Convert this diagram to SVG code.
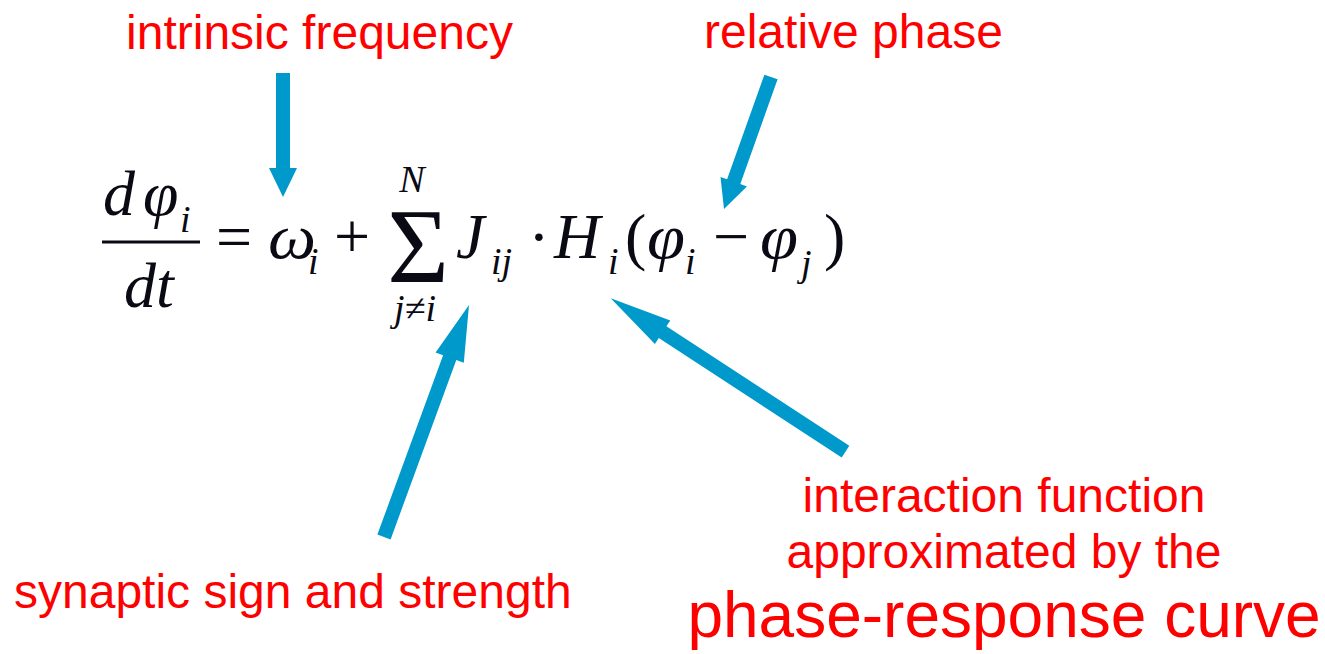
<svg xmlns="http://www.w3.org/2000/svg" width="1325" height="654" viewBox="0 0 1325 654">
<style>
.lbl{font-family:"Liberation Sans",Arial,sans-serif;font-size:48px;fill:#ff0000}
.big{font-size:64px}
.m{font-family:"Liberation Serif","Times New Roman",serif;fill:#0a0a14}
.it{font-style:italic}
.main{font-size:64px}
.sub{font-size:38px}
.arrow{fill:#0099cc}
</style>
<rect width="1325" height="654" fill="#ffffff"/>
<g id="label-intrinsic"><text class="lbl" x="319.5" y="49" text-anchor="middle">intrinsic frequency</text></g>
<g id="label-relative"><text class="lbl" x="704" y="48">relative phase</text></g>
<g id="label-synaptic"><text class="lbl" x="14" y="608">synaptic sign and strength</text></g>
<g id="label-interaction">
<text class="lbl" x="1004" y="512" text-anchor="middle">interaction function</text>
<text class="lbl" x="1004" y="568" text-anchor="middle">approximated by the</text>
<text class="lbl big" x="1004" y="637" text-anchor="middle">phase-response curve</text>
</g>
<g id="equation">
<text class="m it main" x="103" y="215">d</text>
<text class="m it main" x="143" y="215">φ</text>
<text class="m it sub" x="180" y="232">i</text>
<line x1="102" y1="242" x2="200" y2="242" stroke="#0a0a14" stroke-width="3"/>
<text class="m it main" x="124" y="307">dt</text>
<text class="m main" x="234" y="258" text-anchor="middle">=</text>
<text class="m it main" x="268" y="258" textLength="48" lengthAdjust="spacingAndGlyphs">ω</text>
<text class="m it sub" x="308" y="274">i</text>
<text class="m main" x="352" y="258" text-anchor="middle">+</text>
<text class="m" x="418" y="282" font-size="106" text-anchor="middle">Σ</text>
<text class="m it sub" x="412" y="192" text-anchor="middle">N</text>
<text class="m it sub" x="415" y="321" text-anchor="middle">j≠i</text>
<text class="m it main" x="456" y="258">J</text>
<text class="m it sub" x="491" y="274">ij</text>
<text class="m main" x="539" y="258" text-anchor="middle">·</text>
<text class="m it main" x="554" y="258">H</text>
<text class="m it sub" x="608" y="274">i</text>
<text class="m main" x="625" y="258">(</text>
<text class="m it main" x="647" y="258" textLength="38" lengthAdjust="spacingAndGlyphs">φ</text>
<text class="m it sub" x="685" y="274">i</text>
<text class="m main" x="731" y="258" text-anchor="middle">−</text>
<text class="m it main" x="760" y="258" textLength="38" lengthAdjust="spacingAndGlyphs">φ</text>
<text class="m it sub" x="801" y="276">j</text>
<text class="m main" x="824" y="258">)</text>
</g>
<g id="connectors">
<polygon class="arrow" points="276,73 290,73 290,168 297,168 283,197 269,168 276,168"/>
<polygon class="arrow" points="777.6,79.3 740.3,184 746.9,186.4 724,209 720.5,177 727.1,179.3 764.4,74.7"/>
<polygon class="arrow" points="390.6,539.4 456.3,360 463.8,362.8 469,305 435.6,352.4 443.1,355.2 377.4,534.6"/>
<polygon class="arrow" points="849.3,445.8 666.4,326.3 670.3,320.5 610.7,298.3 654.9,343.9 658.8,338.1 841.7,457.6"/>
</g>
</svg>
